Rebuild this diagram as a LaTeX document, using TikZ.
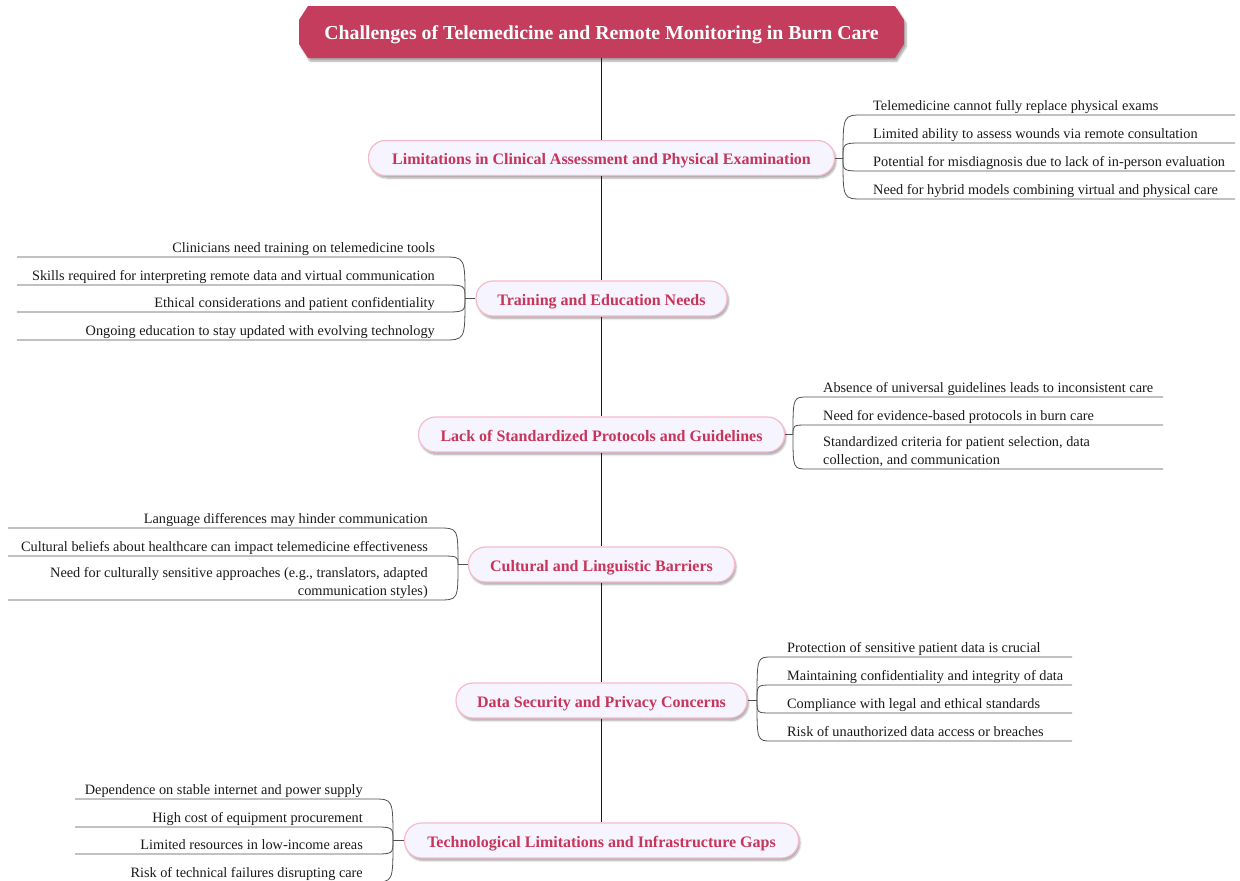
\documentclass[tikz,border=0pt]{standalone}
\usepackage{fontspec}
\setmainfont{Liberation Serif}
\usetikzlibrary{shadows.blur}
\definecolor{titlefill}{RGB}{196,61,93}
\definecolor{brtext}{RGB}{199,53,88}
\definecolor{brfill}{RGB}{246,244,255}
\definecolor{brdraw}{RGB}{246,186,202}
\definecolor{twigc}{RGB}{80,80,80}
\definecolor{trunkc}{RGB}{25,25,25}
\definecolor{leaftext}{RGB}{25,25,25}
\begin{document}
\begin{tikzpicture}[x=1pt,y=-1pt,
  titlebox/.style={inner sep=0, minimum width=605pt, minimum height=52pt, text=white,
    text height=17pt, text depth=2pt, font=\fontsize{19.8}{24}\selectfont\bfseries},
  titleshape/.style={fill=titlefill, blur shadow={shadow xshift=2pt, shadow yshift=-3pt, shadow opacity=35, shadow blur steps=6}},
  branch/.style={rectangle, rounded corners=17pt, draw=brdraw, line width=1.2pt, fill=brfill, text=brtext,
    font=\fontsize{16}{19}\selectfont\bfseries, minimum height=35pt, inner sep=0,
    text height=15.5pt, text depth=2.5pt,
    blur shadow={shadow xshift=1.5pt, shadow yshift=-2.5pt, shadow opacity=35, shadow blur steps=6}},
  leaf/.style={inner sep=0, text=leaftext, font=\fontsize{14.3}{17.5}\selectfont},
  twig/.style={draw=twigc, line width=0.8pt},
  trunk/.style={draw=trunkc, line width=1.5pt}]
\useasboundingbox (0,0) rectangle (1240,881);

% title shape (chamfered box)
\path[titleshape] (308,6) -- (895,6) -- (904,20) -- (904,44) -- (895,58) -- (308,58) -- (299,44) -- (299,20) -- cycle;
\node[titlebox] (title) at (601.5,32) {Challenges of Telemedicine and Remote Monitoring in Burn Care};

% branches
\node[branch, minimum width=466pt] (b1) at (601.5,158) {Limitations in Clinical Assessment and Physical Examination};
\node[branch, minimum width=251pt] (b2) at (601.5,298.5) {Training and Education Needs};
\node[branch, minimum width=366pt] (b3) at (601.5,434.5) {Lack of Standardized Protocols and Guidelines};
\node[branch, minimum width=266pt] (b4) at (601.5,564.5) {Cultural and Linguistic Barriers};
\node[branch, minimum width=291pt] (b5) at (601.5,700.5) {Data Security and Privacy Concerns};
\node[branch, minimum width=394pt] (b6) at (601.5,840.5) {Technological Limitations and Infrastructure Gaps};

\draw[trunk] (title.south) -- (b1.north) (b1.south) -- (b2.north) (b2.south) -- (b3.north)
  (b3.south) -- (b4.north) (b4.south) -- (b5.north) (b5.south) -- (b6.north);

% branch 1 leaves (right)
\coordinate (j1) at (843,158);
\draw[twig] (b1.east) -- (j1);
\foreach \n/\y/\t in {a/115/Telemedicine cannot fully replace physical exams,
  b/143/Limited ability to assess wounds via remote consultation,
  c/171/Potential for misdiagnosis due to lack of in-person evaluation,
  d/199/Need for hybrid models combining virtual and physical care}{
  \node[leaf, anchor=base west] (l1\n) at (873,\y-5) {\t};
  \coordinate (s1\n) at (863,\y);
  \coordinate (e1\n) at (1235,\y);
  \draw[twig] (j1) .. controls (j1 |- s1\n) .. (s1\n) -- (e1\n);
}

% branch 2 leaves (left)
\coordinate (j2) at (465,298.5);
\draw[twig] (b2.west) -- (j2);
\foreach \n/\y/\t in {a/257/Clinicians need training on telemedicine tools,
  b/285/Skills required for interpreting remote data and virtual communication,
  c/312/Ethical considerations and patient confidentiality,
  d/340/Ongoing education to stay updated with evolving technology}{
  \node[leaf, anchor=base east] (l2\n) at (435,\y-5) {\t};
  \coordinate (s2\n) at (443,\y);
  \coordinate (e2\n) at (17,\y);
  \draw[twig] (j2) .. controls (j2 |- s2\n) .. (s2\n) -- (e2\n);
}

% branch 3 leaves (right)
\coordinate (j3) at (793,434.5);
\draw[twig] (b3.east) -- (j3);
\foreach \n/\y/\t in {a/397/Absence of universal guidelines leads to inconsistent care,
  b/425/Need for evidence-based protocols in burn care}{
  \node[leaf, anchor=base west] (l3\n) at (823,\y-5) {\t};
  \coordinate (s3\n) at (808,\y);
  \coordinate (e3\n) at (1163,\y);
  \draw[twig] (j3) .. controls (j3 |- s3\n) .. (s3\n) -- (e3\n);
}
\node[leaf, anchor=base west] (l3c) at (823,464) {\parbox[b]{330pt}{\raggedright Standardized criteria for patient selection, data\\collection, and communication}};
\coordinate (s3c) at (808,469);
\coordinate (e3c) at (1163,469);
\draw[twig] (j3) .. controls (j3 |- s3c) .. (s3c) -- (e3c);

% branch 4 leaves (left)
\coordinate (j4) at (458,564.5);
\draw[twig] (b4.west) -- (j4);
\foreach \n/\y/\t in {a/528/Language differences may hinder communication,
  b/556/Cultural beliefs about healthcare can impact telemedicine effectiveness}{
  \node[leaf, anchor=base east] (l4\n) at (428,\y-5) {\t};
  \coordinate (s4\n) at (438,\y);
  \coordinate (e4\n) at (8,\y);
  \draw[twig] (j4) .. controls (j4 |- s4\n) .. (s4\n) -- (e4\n);
}
\node[leaf, anchor=base east] (l4c) at (428,595) {\parbox[b]{420pt}{\raggedleft Need for culturally sensitive approaches (e.g., translators, adapted\\communication styles)}};
\coordinate (s4c) at (438,600);
\coordinate (e4c) at (8,600);
\draw[twig] (j4) .. controls (j4 |- s4c) .. (s4c) -- (e4c);

% branch 5 leaves (right)
\coordinate (j5) at (757,700.5);
\draw[twig] (b5.east) -- (j5);
\foreach \n/\y/\t in {a/657/Protection of sensitive patient data is crucial,
  b/685/Maintaining confidentiality and integrity of data,
  c/713/Compliance with legal and ethical standards,
  d/741/Risk of unauthorized data access or breaches}{
  \node[leaf, anchor=base west] (l5\n) at (787,\y-5) {\t};
  \coordinate (s5\n) at (772,\y);
  \coordinate (e5\n) at (1072,\y);
  \draw[twig] (j5) .. controls (j5 |- s5\n) .. (s5\n) -- (e5\n);
}

% branch 6 leaves (left)
\coordinate (j6) at (393,840.5);
\draw[twig] (b6.west) -- (j6);
\foreach \n/\y/\t in {a/799/Dependence on stable internet and power supply,
  b/827/High cost of equipment procurement,
  c/854/Limited resources in low-income areas,
  d/882/Risk of technical failures disrupting care}{
  \node[leaf, anchor=base east] (l6\n) at (363,\y-5) {\t};
  \coordinate (s6\n) at (373,\y);
  \coordinate (e6\n) at (75,\y);
  \draw[twig] (j6) .. controls (j6 |- s6\n) .. (s6\n) -- (e6\n);
}
\end{tikzpicture}
\end{document}
